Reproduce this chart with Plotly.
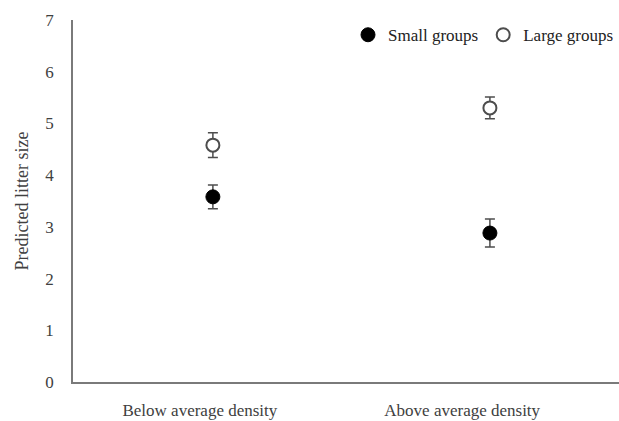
import plotly.graph_objects as go

categories = ["Below average density", "Above average density"]
small_groups = [3.58, 2.88]
small_err = [0.23, 0.27]
large_groups = [4.58, 5.30]
large_err = [0.24, 0.21]
y_ticks = [0, 1, 2, 3, 4, 5, 6, 7]

font_family = "Liberation Serif, Times New Roman, serif"
x_idx = list(range(len(categories)))
label_pos = [-0.047, 0.90]

fig = go.Figure()
fig.add_trace(go.Scatter(
    x=x_idx, y=small_groups, mode="markers", name="Small groups",
    marker=dict(symbol="circle", size=14, color="black", line=dict(color="black", width=1)),
    error_y=dict(type="data", array=small_err, visible=True, color="#4d4d4d", thickness=1.5, width=5),
))
fig.add_trace(go.Scatter(
    x=x_idx, y=large_groups, mode="markers", name="Large groups",
    marker=dict(symbol="circle", size=13, color="white", line=dict(color="#4d4d4d", width=2)),
    error_y=dict(type="data", array=large_err, visible=True, color="#4d4d4d", thickness=1.5, width=5),
))

fig.update_layout(
    width=619, height=421,
    margin=dict(l=73, r=0, t=20, b=39),
    paper_bgcolor="white", plot_bgcolor="white",
    font=dict(family=font_family, size=17, color="#404040"),
    showlegend=True,
    legend=dict(orientation="h", x=1.0, xanchor="right", y=0.958, yanchor="middle",
                font=dict(size=17, color="#222222"), itemwidth=30, tracegroupgap=0,
                bgcolor="rgba(0,0,0,0)"),
    xaxis=dict(range=[-0.505, 1.466], tickmode="array", tickvals=label_pos, ticktext=categories,
               showline=True, linecolor="#7a7a7a", linewidth=1.5, showgrid=False, zeroline=False,
               ticks="", ticklabelstandoff=12, tickfont=dict(size=17, color="#404040")),
    yaxis=dict(range=[0, 7], tickmode="array", tickvals=y_ticks,
               showline=True, linecolor="#7a7a7a", linewidth=1.5, showgrid=False, zeroline=False,
               ticks="", ticklabelstandoff=14, tickfont=dict(size=17, color="#404040"),
               title=dict(text="Predicted litter size", standoff=12, font=dict(size=18, color="#404040"))),
)

fig.write_html("out.html")
